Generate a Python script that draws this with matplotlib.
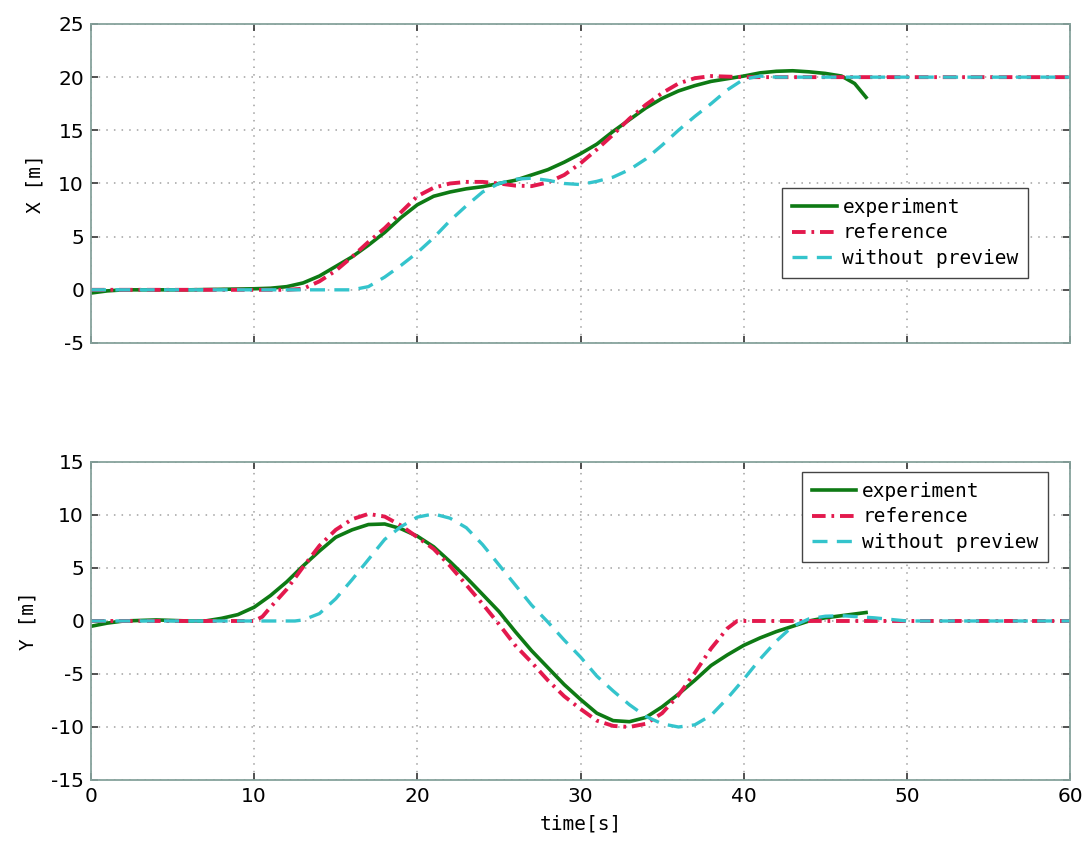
import matplotlib
matplotlib.use("Agg")
import matplotlib.pyplot as plt

plt.rcParams["axes.unicode_minus"] = False

# ---- X position (top panel) ----
tx_exp = [0, 1, 2, 4, 6, 8, 10, 11, 12, 13, 14, 15, 16, 17, 18, 19, 20, 21, 22, 23, 24, 25,
          26, 27, 28, 29, 30, 31, 32, 33, 34, 35, 36, 37, 38, 39, 40, 41, 42, 43, 44, 45,
          46, 46.8, 47.5]
x_exp = [-0.3, -0.1, 0.0, 0.0, 0.0, 0.05, 0.1, 0.15, 0.3, 0.65, 1.3, 2.2, 3.1, 4.2, 5.4,
         6.8, 8.0, 8.8, 9.2, 9.5, 9.7, 10.0, 10.3, 10.8, 11.3, 12.0, 12.8, 13.7, 14.9, 16.0,
         17.1, 18.0, 18.7, 19.2, 19.6, 19.85, 20.1, 20.4, 20.55, 20.6, 20.5, 20.35, 20.1,
         19.4, 18.1]

tx_ref = [0, 12, 13, 14, 15, 16, 17, 18, 19, 20, 21, 22, 23, 24, 25, 26, 27, 28, 29, 30,
          31, 32, 33, 34, 35, 36, 37, 38, 39, 40, 60]
x_ref = [0.0, 0.0, 0.1, 0.8, 1.8, 3.1, 4.5, 5.8, 7.3, 8.8, 9.6, 10.0, 10.15, 10.15, 10.0,
         9.8, 9.75, 10.1, 10.8, 11.9, 13.2, 14.6, 16.1, 17.4, 18.5, 19.4, 19.9, 20.1, 20.05,
         20.0, 20.0]

tx_wo = [0, 16, 17, 18, 19, 20, 21, 22, 23, 24, 25, 26, 27, 28, 29, 30, 31, 32, 33, 34,
         35, 36, 37, 38, 39, 40, 41, 42, 60]
x_wo = [0.0, 0.0, 0.3, 1.2, 2.3, 3.5, 4.9, 6.5, 7.9, 9.2, 10.0, 10.4, 10.5, 10.3, 10.0,
        9.9, 10.2, 10.6, 11.3, 12.3, 13.6, 15.0, 16.3, 17.5, 18.8, 19.8, 20.1, 20.0, 20.0]

# ---- Y position (bottom panel) ----
ty_exp = [0, 1, 2, 3, 4, 5, 6, 7, 8, 9, 10, 11, 12, 13, 14, 15, 16, 17, 18, 19, 20, 21,
          22, 23, 24, 25, 26, 27, 28, 29, 30, 31, 32, 33, 34, 35, 36, 37, 38, 39, 40, 41,
          42, 43, 44, 45, 46, 47, 47.5]
y_exp = [-0.5, -0.2, 0.0, 0.05, 0.1, 0.05, 0.0, 0.0, 0.25, 0.6, 1.3, 2.4, 3.7, 5.2, 6.6,
         7.9, 8.6, 9.1, 9.15, 8.7, 8.0, 7.0, 5.6, 4.1, 2.5, 0.9, -1.0, -2.8, -4.4, -6.0,
         -7.4, -8.7, -9.4, -9.5, -9.1, -8.1, -6.9, -5.6, -4.2, -3.2, -2.3, -1.6, -1.0,
         -0.5, 0.0, 0.3, 0.5, 0.7, 0.8]

ty_ref = [0, 10, 10.5, 11, 12, 13, 14, 15, 16, 17, 18, 19, 20, 21, 22, 23, 24, 25, 26, 27,
          28, 29, 30, 31, 32, 33, 34, 35, 36, 37, 38, 39, 39.6, 60]
y_ref = [0.0, 0.0, 0.4, 1.3, 3.0, 5.1, 7.1, 8.6, 9.6, 10.1, 9.85, 9.0, 7.9, 6.8, 5.2, 3.4,
         1.6, -0.3, -2.3, -3.9, -5.6, -7.1, -8.3, -9.4, -9.9, -10.0, -9.7, -8.7, -7.0,
         -4.9, -2.6, -0.7, 0.0, 0.0]

ty_wo = [0, 12.5, 13, 14, 15, 16, 17, 18, 19, 20, 21, 22, 23, 24, 25, 26, 27, 28, 29, 30,
         31, 32, 33, 34, 35, 36, 37, 38, 39, 40, 41, 42, 43, 44, 45, 46, 47, 48, 49, 50, 60]
y_wo = [0.0, 0.0, 0.1, 0.7, 2.1, 3.9, 5.8, 7.7, 8.9, 9.8, 10.1, 9.7, 8.8, 7.2, 5.3, 3.4,
        1.5, -0.1, -1.8, -3.4, -5.2, -6.6, -7.9, -9.0, -9.7, -10.0, -9.8, -8.9, -7.3, -5.5,
        -3.6, -1.9, -0.5, 0.2, 0.45, 0.5, 0.4, 0.3, 0.15, 0.0, 0.0]

labels = ["experiment", "reference", "without preview"]

c_exp = "#0e7a14"
c_ref = "#e3194d"
c_wo = "#34c4cc"
spine_c = "#86a29c"

fig = plt.figure(figsize=(10.86, 8.56), dpi=100)
ax1 = fig.add_axes([0.0838, 0.5993, 0.9015, 0.3727])
ax2 = fig.add_axes([0.0838, 0.0888, 0.9015, 0.3715])


def style(ax, ylim, yticks):
    ax.set_xlim(0, 60)
    ax.set_ylim(*ylim)
    ax.set_xticks(range(0, 61, 10))
    ax.set_yticks(yticks)
    ax.grid(True, color="#a0a0a0", linestyle=(0, (1, 4)), linewidth=1.1)
    ax.tick_params(direction="in", length=5, width=1.2, color="#333333",
                   top=True, right=True, labelsize=14.5, pad=5)
    for s in ax.spines.values():
        s.set_color(spine_c)
        s.set_linewidth(1.3)


def draw(ax, te, ye, tr, yr, tw, yw):
    ax.plot(te, ye, color=c_exp, linewidth=2.6, label=labels[0])
    ax.plot(tr, yr, color=c_ref, linewidth=2.8, linestyle=(0, (3.5, 1.5, 0.7, 1.5)),
            label=labels[1])
    ax.plot(tw, yw, color=c_wo, linewidth=2.4, linestyle=(0, (4.5, 2.8)), label=labels[2])


draw(ax1, tx_exp, x_exp, tx_ref, x_ref, tx_wo, x_wo)
draw(ax2, ty_exp, y_exp, ty_ref, y_ref, ty_wo, y_wo)

style(ax1, (-5, 25), range(-5, 26, 5))
style(ax2, (-15, 15), range(-15, 16, 5))
ax1.tick_params(labelbottom=False)

mono = "DejaVu Sans Mono"
ax1.set_ylabel("X [m]", family=mono, fontsize=14, labelpad=10)
ax2.set_ylabel("Y [m]", family=mono, fontsize=14, labelpad=10)
ax2.set_xlabel("time[s]", family=mono, fontsize=14, labelpad=6)

leg_kw = dict(prop={"family": mono, "size": 14}, fancybox=False, framealpha=1,
              edgecolor="#444444", handlelength=2.3, handletextpad=0.3,
              labelspacing=0.35, borderpad=0.5, borderaxespad=0)
l1 = ax1.legend(loc="upper left", bbox_to_anchor=(0.706, 0.486), **leg_kw)
l2 = ax2.legend(loc="upper left", bbox_to_anchor=(0.726, 0.969), **leg_kw)
for l in (l1, l2):
    l.get_frame().set_linewidth(1.0)

fig.savefig("out.png", dpi=100)
